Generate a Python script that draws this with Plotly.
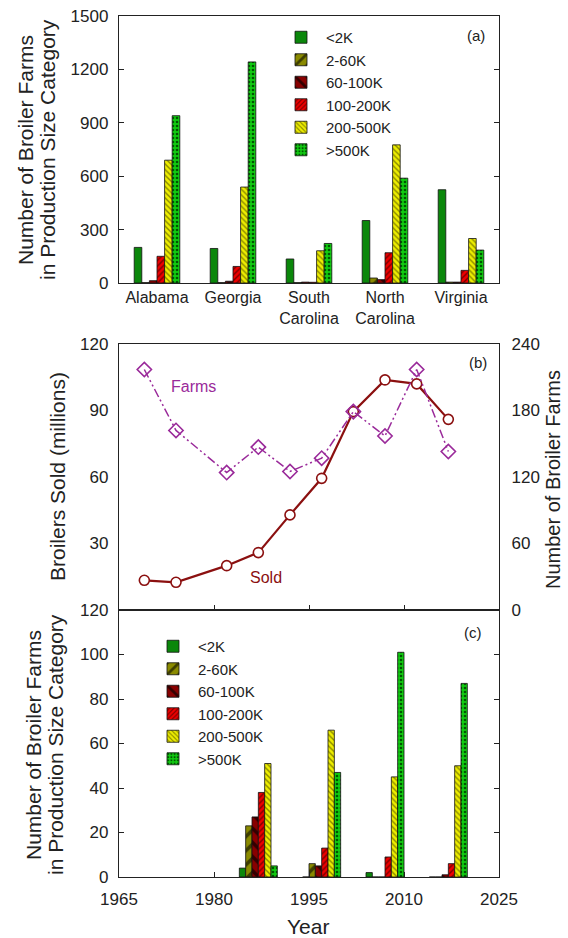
import plotly.graph_objects as go

# ---------------- data ----------------
size_cats = ["<2K", "2-60K", "60-100K", "100-200K", "200-500K", ">500K"]

states = ["Alabama", "Georgia", "South<br>Carolina", "North<br>Carolina", "Virginia"]
state_lt2k = [200, 194, 135, 351, 524]
state_2_60k = [2, 2, 2, 28, 5]
state_60_100k = [13, 10, 5, 19, 5]
state_100_200k = [150, 93, 4, 170, 71]
state_200_500k = [690, 539, 181, 776, 250]
state_gt500k = [940, 1242, 222, 589, 185]

census_years = [1969, 1974, 1982, 1987, 1992, 1997, 2002, 2007, 2012, 2017]
broilers_sold = [13.4, 12.5, 20.0, 25.9, 42.9, 59.4, 89.5, 103.8, 102.0, 86.0]
broiler_farms = [217, 162, 124, 147, 125, 137, 179, 157, 217, 143]

group_years = [1987, 1997, 2007, 2017]
yr_lt2k = [4, 0, 2, 0]
yr_2_60k = [23, 6, 0, 0]
yr_60_100k = [27, 5, 0, 1]
yr_100_200k = [38, 13, 9, 6]
yr_200_500k = [51, 66, 45, 50]
yr_gt500k = [5, 47, 101, 87]

ticks_a = [0, 300, 600, 900, 1200, 1500]
ticks_b_left = [30, 60, 90, 120]
ticks_b_right = [0, 60, 120, 180, 240]
ticks_c = [0, 20, 40, 60, 80, 100, 120]
ticks_year = [1965, 1980, 1995, 2010, 2025]

# ---------------- styles ----------------
FONT = "Arial, Liberation Sans, sans-serif"
TXT = "#222222"
bar_styles = [
    dict(color="#0b870b", shape="", fg="#0b870b", size=8),
    dict(color="#8a8a00", shape="/", fg="#3d3d00", size=10),
    dict(color="#880000", shape="\\", fg="#330000", size=10),
    dict(color="#ee0000", shape="/", fg="#7a0000", size=4),
    dict(color="#eeee00", shape="\\", fg="#8a8a00", size=4),
    dict(color="#11cc11", shape=".", fg="#005500", size=4),
]

state_series = [state_lt2k, state_2_60k, state_60_100k, state_100_200k, state_200_500k, state_gt500k]
year_series = [yr_lt2k, yr_2_60k, yr_60_100k, yr_100_200k, yr_200_500k, yr_gt500k]

fig = go.Figure()


def marker_for(st):
    m = dict(color=st["color"], line=dict(color="#111111", width=0.8))
    if st["shape"]:
        m["pattern"] = dict(shape=st["shape"], fgcolor=st["fg"], bgcolor=st["color"],
                            size=st["size"], solidity=0.35, fillmode="replace")
    return m


for name, vals, st in zip(size_cats, state_series, bar_styles):
    fig.add_trace(go.Bar(x=states, y=vals, name=name, marker=marker_for(st),
                         xaxis="x", yaxis="y", legend="legend"))

for name, vals, st in zip(size_cats, year_series, bar_styles):
    fig.add_trace(go.Bar(x=group_years, y=vals, name=name, marker=marker_for(st),
                         xaxis="x3", yaxis="y3", legend="legend2"))

fig.add_trace(go.Scatter(x=census_years, y=broiler_farms, mode="lines+markers",
                         line=dict(color="#9a2a9a", width=1.5, dash="9px,3px,2px,3px,2px,3px"),
                         marker=dict(symbol="diamond-open", size=11, color="#9a2a9a",
                                     line=dict(width=1.6)),
                         xaxis="x2", yaxis="y4", showlegend=False))
fig.add_trace(go.Scatter(x=census_years, y=broilers_sold, mode="lines+markers",
                         line=dict(color="#8b1010", width=2.2),
                         marker=dict(symbol="circle", size=10, color="white",
                                     line=dict(color="#8b1010", width=1.6)),
                         xaxis="x2", yaxis="y2", showlegend=False))

W, H = 568, 938
xd = [119 / W, 499 / W]
ya = [1 - 283 / H, 1 - 16 / H]
yb = [1 - 610 / H, 1 - 344 / H]
yc = [1 - 877 / H, 1 - 610 / H]

axline = dict(showline=True, linecolor="#222222", linewidth=1.3, showgrid=False, zeroline=False,
              tickfont=dict(family=FONT, size=17, color=TXT), tickcolor="#222222")

legend_common = dict(xanchor="left", yanchor="top", bgcolor="rgba(0,0,0,0)",
                     font=dict(family=FONT, size=15, color=TXT), tracegroupgap=0, itemwidth=40)

fig.update_layout(
    width=W, height=H,
    margin=dict(l=0, r=0, t=0, b=0, autoexpand=False),
    paper_bgcolor="white", plot_bgcolor="white",
    barmode="group", bargap=0.4, bargroupgap=0,
    font=dict(family=FONT, color=TXT),
    xaxis=dict(domain=xd, anchor="y", type="category", range=[-0.5, 4.5], mirror=True,
               ticks="", ticklabelstandoff=0,
               **{**axline, "tickfont": dict(family=FONT, size=16, color=TXT)}),
    yaxis=dict(domain=ya, anchor="x", range=[0, 1500], tickvals=ticks_a, ticks="inside",
               ticklen=5, mirror="ticks", ticklabelstandoff=6, **axline),
    xaxis2=dict(domain=xd, anchor="y2", range=[1965, 2025], tickvals=ticks_year,
                showticklabels=False, ticks="inside", ticklen=5, mirror=True, **axline),
    yaxis2=dict(domain=yb, anchor="x2", range=[0, 120], tickvals=ticks_b_left, ticks="",
                ticklabelstandoff=6, **axline),
    yaxis4=dict(domain=yb, anchor="x2", overlaying="y2", side="right", range=[0, 240],
                tickvals=ticks_b_right, ticks="", ticklabelstandoff=8, **axline),
    xaxis3=dict(domain=xd, anchor="y3", range=[1965, 2025], tickvals=ticks_year,
                ticks="inside", ticklen=5, mirror=True, ticklabelstandoff=6, **axline),
    yaxis3=dict(domain=yc, anchor="x3", range=[0, 120], tickvals=ticks_c, ticks="inside",
                ticklen=5, mirror="ticks", ticklabelstandoff=6, **axline),
    legend=dict(x=276 / W, y=1 - 21 / H, **legend_common),
    legend2=dict(x=148 / W, y=1 - 630 / H, **legend_common),
)

ann = []


def note(text, x, y, size, color=TXT, angle=0, xanchor="center", yanchor="middle"):
    ann.append(dict(text=text, x=x / W, y=1 - y / H, xref="paper", yref="paper",
                    showarrow=False, textangle=angle, xanchor=xanchor, yanchor=yanchor,
                    font=dict(family=FONT, size=size, color=color)))


note("(a)", 476, 35, 15)
note("(b)", 478, 362, 15)
note("(c)", 473, 632, 15)
note("Farms", 193, 386, 16, color="#9a2a9a")
note("Sold", 266, 577, 16, color="#8b1010")
note("Number of Broiler Farms", 25, 150, 21, angle=-90)
note("in Production Size Category", 47, 150, 21, angle=-90)
note("Broilers Sold (millions)", 57, 477, 21, angle=-90)
note("Number of Broiler Farms", 553, 480, 20, angle=-90)
note("Number of Broiler Farms", 33, 745, 21, angle=-90)
note("in Production Size Category", 55, 745, 21, angle=-90)
note("Year", 308, 926, 21)
fig.update_layout(annotations=ann)

fig.write_html("out.html")
